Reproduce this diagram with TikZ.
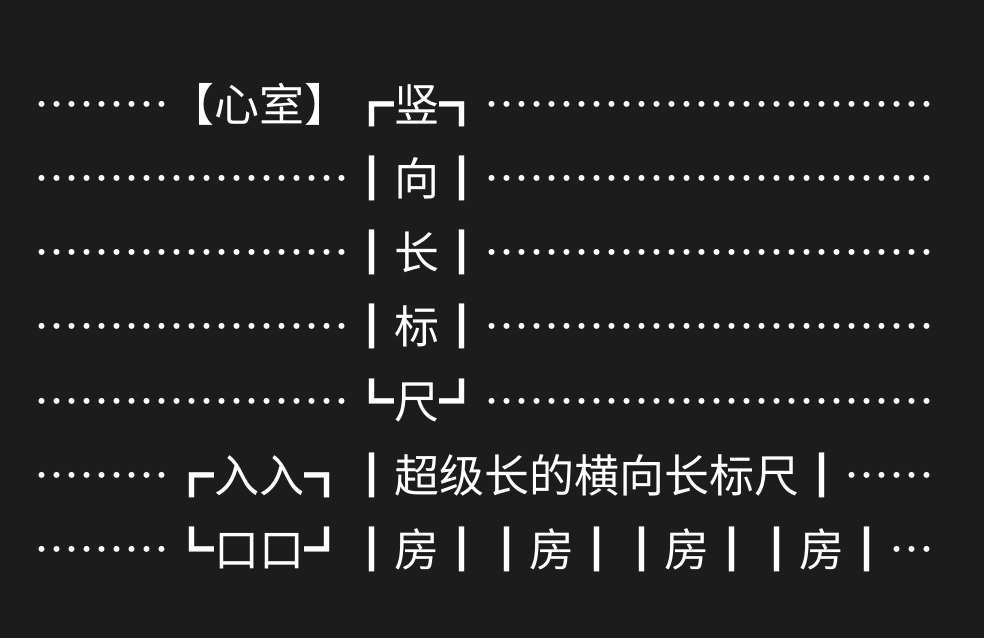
\documentclass[tikz,border=0pt]{standalone}
\usepackage{fontspec}
\newfontfamily\cjkfont[Script=CJK,Language=Chinese Simplified,RawFeature=+fwid]{Noto Sans CJK SC}
\usetikzlibrary{positioning}
\definecolor{bgdark}{HTML}{1C1C1C}
% one full-width ellipsis, and runs of them
\newcommand{\el}{…}
\newcommand{\elthree}{\el\el\el}
\newcommand{\elseven}{\el\el\el\el\el\el\el}
\newcommand{\elten}{\el\el\el\el\el\el\el\el\el\el}

\begin{document}
\begin{tikzpicture}[x=1pt,y=-1pt]
    \fill [bgdark] (0,0) rectangle (984,638);
    \useasboundingbox (0,0) rectangle (984,638);
    \tikzset{textrow/.style={anchor=base west,inner sep=0,white,font=\cjkfont\fontsize{45}{45}\selectfont}}

    \node [textrow] (row1) at (34.2,121.4) {\elthree【心室】┏竖┓\elten};
    \node [textrow] (row2) at (34.2,195.6) {\elseven┃向┃\elten};
    \node [textrow] (row3) at (34.2,269.8) {\elseven┃长┃\elten};
    \node [textrow] (row4) at (34.2,343.9) {\elseven┃标┃\elten};
    \node [textrow] (row5) at (34.2,418.1) {\elseven┗尺┛\elten};
    \node [textrow] (row6) at (34.2,492.3) {\elthree┏入入┓┃超级长的横向长标尺┃\el\el};
    \node [textrow] (row7) at (34.2,566.5) {\elthree┗口口┛┃房┃┃房┃┃房┃┃房┃\el};
  \end{tikzpicture}
\end{document}
